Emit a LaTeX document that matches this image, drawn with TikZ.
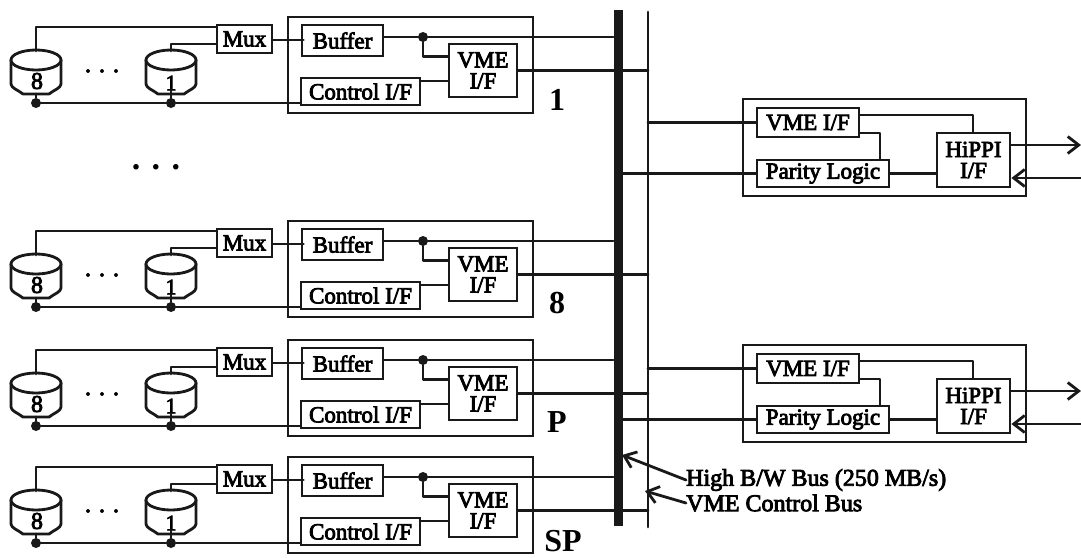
\documentclass[tikz,border=0pt]{standalone}
\usepackage{fontspec}
\setmainfont{Liberation Serif}
\newfontfamily\labfont[FakeBold=3.5]{Liberation Serif}
\usetikzlibrary{arrows.meta,calc}
\tikzset{
  ln/.style={line width=2.8pt,line cap=round,line join=round,black!90},
  blk/.style={draw=black!90,line width=2.8pt,fill=white,inner sep=0pt,align=center,font=\labfont\fontsize{23}{23}\selectfont},
  boxfr/.style={draw=black!90,line width=2.8pt,inner sep=0pt},
  lab/.style={inner sep=0pt,font=\labfont\fontsize{24}{24}\selectfont,anchor=west},
  num/.style={inner sep=0pt,font=\bfseries\fontsize{32}{32}\selectfont},
  dotn/.style={circle,fill=black!90,inner sep=0pt,minimum size=10pt},
  head/.style={-{Straight Barb[length=11pt,width=17pt,line width=2.8pt]}},
}
\newcommand{\placebox}[6]{% name, x1, y1, x2, y2, text
  \node[blk,minimum width={(#4-#2)*1pt},minimum height={(#5-#3)*1pt}] (#1) at ({(#2+#4)/2},{(#3+#5)/2}) {#6};}
\newcommand{\diskshape}[2]{% centre x, name
  \draw[ln,fill=white] (#1-25,60) -- (#1-25,84) .. controls (#1-25,88) and (#1-18,90) .. (#1-13,94) -- (#1+13,94) .. controls (#1+18,90) and (#1+25,88) .. (#1+25,84) -- (#1+25,60);
  \draw[ln,fill=white] (#1,60) ellipse [x radius=25,y radius=10];
  \coordinate (#2t) at (#1,51);
  \coordinate (#2b) at (#1,94);}
\begin{document}
\begin{tikzpicture}[x=1pt,y=-1pt]
\useasboundingbox (0,0) rectangle (1081,557);
% buses
\node[fill=black!90,inner sep=0pt,minimum width=9pt,minimum height=516pt] (hbus) at (618,268) {};
\coordinate (cbt) at (648,12);
\coordinate (cbb) at (648,527);
\draw[ln] (cbt) -- (cbb);
% rows
\foreach \r/\dy in {a/0,b/204,c/323,d/440}{
\begin{scope}[yshift=-\dy pt]
  \node[boxfr,minimum width=245pt,minimum height=96pt] (o\r) at (410.5,65) {};
  \diskshape{36}{dl\r}
  \diskshape{171}{dr\r}
  \node[inner sep=0pt,font=\labfont\fontsize{24}{24}\selectfont] (nl\r) at (37,81) {8};
  \node[inner sep=0pt,font=\labfont\fontsize{22}{22}\selectfont] (nr\r) at (171,83) {1};
  \node[inner sep=0pt,font=\labfont\fontsize{24}{24}\selectfont] (e\r) at (102,71) {.\,\,.\,\,.};
  \placebox{m\r}{217}{25}{272}{53}{Mux}
  \placebox{bf\r}{302}{25}{383}{56}{Buffer}
  \placebox{ct\r}{301}{78}{420}{105}{Control I/F}
  \placebox{v\r}{449}{44}{517}{97}{VME\\[-2pt]I/F}
  \node[dotn] (dl\r d) at (36,103) {};
  \node[dotn] (dr\r d) at (171,103) {};
  \node[dotn] (j\r) at (423,37) {};
  \draw[ln] (dl\r t) |- ($(m\r.west)+(0,-12)$);
  \draw[ln] (dr\r t) |- ($(m\r.west)+(0,5)$);
  \draw[ln] (dl\r b) -- (dl\r d);
  \draw[ln] (nr\r.south) -- (dr\r d);
  \draw[ln] (dl\r d) -- (dr\r d) -- (ct\r.west |- dr\r d);
  \draw[ln] (m\r.east) ++(0,1) -- ++(30,0);
  \draw[ln] (bf\r.east |- j\r) -- (j\r);
  \draw[ln] (j\r) -- (hbus.west |- j\r);
  \draw[ln] (j\r) |- ($(v\r.west)+(0,-14)$);
  \coordinate (k\r) at ($(v\r.west)+(0,10.5)$);
  \draw[ln] (ct\r.east |- k\r) -- (k\r);
  \draw[ln] (v\r.east) -- (cbb |- v\r.east);
\end{scope}
}
\node[num] (na) at (557,100) {1};
\node[num] (nb) at (557,303) {8};
\node[num] (nc) at (557,422) {P};
\node[num] (nd) at (563,541) {SP};
\node[inner sep=0pt,font=\bfseries\fontsize{34}{34}\selectfont] (gap) at (156,167) {.\,\,.\,\,.};
% right-hand boxes
\foreach \r/\dy in {p/0,q/246}{
\begin{scope}[yshift=-\dy pt]
  \node[boxfr,minimum width=283pt,minimum height=97pt] (o\r) at (884.5,147.5) {};
  \placebox{rv\r}{757}{108}{859}{137}{VME I/F}
  \placebox{rp\r}{757}{160}{889}{187}{Parity Logic}
  \placebox{rh\r}{937}{133}{1010}{187}{HiPPI\\[-2pt]I/F}
  \coordinate (ao\r) at (1081,145);
  \coordinate (ai\r) at (1081,178);
  \coordinate (u\r) at (973,115);
  \coordinate (w\r) at (880,133);
  \draw[ln] (cbt |- rv\r.west) -- (rv\r.west);
  \draw[ln] (hbus.east |- rp\r.west) -- (rp\r.west);
  \draw[ln] (rv\r.east |- u\r) -| (u\r |- rh\r.north);
  \draw[ln] (rv\r.east |- w\r) -| (w\r |- rp\r.north);
  \draw[ln] (rp\r.east) -- (rh\r.west |- rp\r.east);
  \draw[ln,head] (rh\r.east |- ao\r) -- (ao\r);
  \draw[ln,head] (ai\r) -- (rh\r.east |- ai\r);
\end{scope}
}
% bus labels
\node[lab] (hl) at (686,480) {High B/W Bus (250 MB/s)};
\node[lab] (vl) at (686,503) {VME Control Bus};
\draw[ln,head] (hl.west) -- (622,455);
\draw[ln,head] (vl.west) -- (645,491);
\end{tikzpicture}
\end{document}
